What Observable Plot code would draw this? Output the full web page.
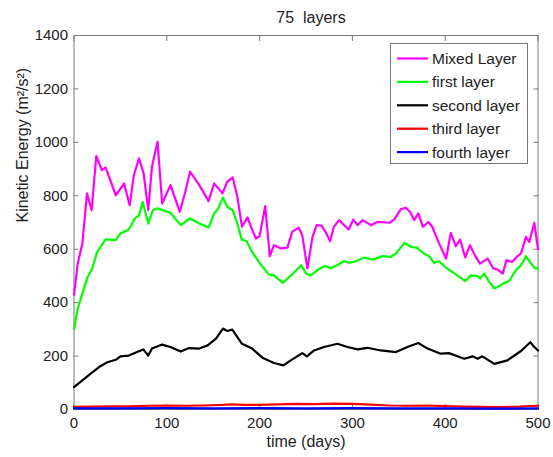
<!DOCTYPE html>
<html><head><meta charset="utf-8">
<script src="https://cdn.jsdelivr.net/npm/d3@7"></script>
<script src="https://cdn.jsdelivr.net/npm/@observablehq/plot@0.6"></script>
<style>
body{margin:0;background:#fff;}
#wrap{position:relative;width:553px;height:457px;font-family:"Liberation Sans",Arial,Helvetica,sans-serif;}
#wrap svg text{white-space:pre;}
#legend{position:absolute;left:390px;top:43px;}
</style></head><body><div id="wrap"></div>
<script>
const titleText = "75  layers";
const xLabel = "time (days)";
const yLabel = "Kinetic Energy (m²/s²)";
const xTicks = [0, 100, 200, 300, 400, 500];
const yTicks = [0, 200, 400, 600, 800, 1000, 1200, 1400];
const seriesNames = ["Mixed Layer", "first layer", "second layer", "third layer", "fourth layer"];
const seriesColors = ["#ff00ff", "#00ff00", "#000000", "#ff0000", "#0000ff"];

const mixedT = [0,4,9,14,19,24,30,34,45,54,60,64.5,70,75,80,84,90,95,104,114,120,125,135,145,151,160,165,171,176,181,187,190,196,200,206,211,215.5,223,230,235,242,246,251.5,257,261.6,266.7,271,276,280,285.7,291,296,301,305.5,311,320,327,332.5,339.6,345,352,357.6,362,366.6,371,376,382,386,393.5,401,406,411.5,416,421.6,426.6,432,437.5,445.7,451.8,456.5,462,466,472,477,481.6,487,490.6,496,500];
const mixedV = [430,546,621,809,746,949,896,906,802,846,765,877,940,884,746,909,1002,771,840,740,815,890,840,780,846,809,852,869,796,684,719,690,640,649,761,574,615,603,606,665,681,652,528,646,690,688,665,630,684,709,690,674,711,690,709,690,702,701,699,711,749,755,740,709,734,684,702,684,621,565,661,611,636,569,615,577,546,565,528,524,509,559,552,571,584,646,627,699,600];

const firstT = [0,4,14,19.6,25,34,45,50,59,65.6,70,74,80,85,90,104,115,125,135,145,151,155.5,160.5,165,171,176,180.7,186,192,201,210,215.5,225,235,245,250,255,262,270,276.7,284,291,296.5,303.7,312.6,321.7,332.5,341,347,356,363,369.5,377,382.7,388,393.5,399,406,413,421.6,427.7,435,437.5,442,447.5,453,458,463.6,469,476,481.7,487,492.5,497,500];
const firstV = [302,378,490,528,590,637,634,659,674,715,727,777,696,746,753,736,690,715,696,681,734,753,794,759,746,696,636,630,590,543,505,502,474,506,540,509,502,521,537,530,541,556,549,555,569,561,574,571,584,624,609,606,584,574,549,555,536,519,502,481,502,499,490,509,477,453,461,474,481,521,540,574,546,528,528];

const secondT = [0,9,18,27,36,45,50,59,68,74.6,80,84,95,104,115,124,135,144,153,160.5,165,170.6,181,192,203,215.5,225.7,233.6,246,251,258.7,269.5,284,294.7,305.5,316,330.6,347,359.4,371,381,395,404,420.5,429.6,435,440,453,467,481.7,491.7,496,500];
const secondV = [84,109,134,159,177,186,199,202,215,225,202,228,243,234,217,230,228,240,265,303,294,299,246,228,194,174,165,184,211,199,221,234,246,234,225,231,221,215,234,249,228,209,211,190,199,190,199,171,184,219,252,234,221];

const thirdT = [0,20,40,60,80,100,120,140,160,170,185,200,220,240,260,280,300,320,340,360,380,400,420,440,460,480,490,500];
const thirdV = [10,11,12,12,14,15,14,15,17,19,17,17,19,21,20,22,21,18,15,14,15,13,11,10,9,11,13,14];

const fourthT = [0,50,100,150,200,250,300,350,400,450,500];
const fourthV = [4,4,5,4,5,4,5,4,4,3,4];

const seriesT = [mixedT, firstT, secondT, thirdT, fourthT];
const seriesV = [mixedV, firstV, secondV, thirdV, fourthV];
const rows = seriesNames.map((name, i) => seriesT[i].map((t, j) => ({series: name, t, v: seriesV[i][j]})));

const axisColor = "#7a7a7a";
const textColor = "#222";
const plainFmt = d => String(d);

const plot = Plot.plot({
  width: 553,
  height: 457,
  marginLeft: 73.5,
  marginRight: 15.5,
  marginTop: 35,
  marginBottom: 48,
  style: {fontFamily: '"Liberation Sans", Arial, Helvetica, sans-serif', fontSize: "15px", background: "#fff", color: textColor},
  x: {domain: [0, 500]},
  y: {domain: [0, 1400]},
  marks: [
    Plot.frame({stroke: axisColor, strokeWidth: 1}),
    Plot.axisX(xTicks, {anchor: "bottom", tickSize: -5, tickPadding: 13, tickFormat: plainFmt, stroke: axisColor, fill: textColor, label: null, fontSize: 15}),
    Plot.axisX(xTicks, {anchor: "top", tickSize: -5, tickFormat: () => "", stroke: axisColor, label: null}),
    Plot.axisY(yTicks, {anchor: "left", tickSize: -5, tickPadding: 11, tickFormat: plainFmt, stroke: axisColor, fill: textColor, label: null, fontSize: 15}),
    Plot.axisY(yTicks, {anchor: "right", tickSize: -5, tickFormat: () => "", stroke: axisColor, label: null}),
    ...rows.map((r, i) => Plot.line(r, {x: "t", y: "v", stroke: seriesColors[i], strokeWidth: 2.2, strokeLinejoin: "round"})),
    Plot.text([titleText], {frameAnchor: "top", dy: -18, dx: 5, fontSize: 16, fill: textColor, lineAnchor: "middle"}),
    Plot.text([xLabel], {frameAnchor: "bottom", dy: 32, fontSize: 16, fill: textColor, lineAnchor: "middle"}),
    Plot.text([yLabel], {frameAnchor: "left", dx: -51, rotate: -90, fontSize: 16, fill: textColor, lineAnchor: "middle"})
  ]
});
const wrap = document.getElementById("wrap");
wrap.appendChild(plot);

// legend
const lg = d3.select(wrap).append("svg").attr("id", "legend").attr("width", 138).attr("height", 121);
lg.append("rect").attr("x", 0.5).attr("y", 0.5).attr("width", 137).attr("height", 120).attr("fill", "#fff").attr("stroke", "#777");
seriesNames.forEach((name, i) => {
  const cy = 15.5 + i * 23.4;
  lg.append("line").attr("x1", 7).attr("x2", 38).attr("y1", cy).attr("y2", cy).attr("stroke", seriesColors[i]).attr("stroke-width", 2.2);
  lg.append("text").attr("x", 42).attr("y", cy).attr("dy", "0.35em").attr("font-size", 15.5).attr("fill", textColor)
    .attr("font-family", '"Liberation Sans", Arial, Helvetica, sans-serif').text(name);
});
</script></body></html>
